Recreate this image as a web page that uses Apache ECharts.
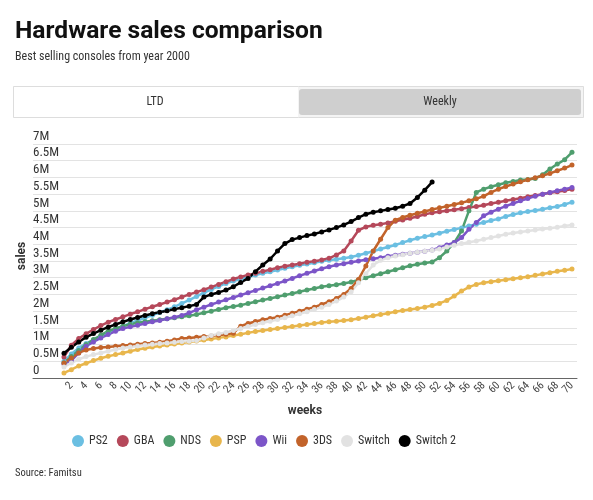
<!DOCTYPE html>
<html>
<head>
<meta charset="utf-8">
<script src="https://cdn.jsdelivr.net/npm/echarts@6/dist/echarts.min.js"></script>
<style>
  html, body { margin: 0; padding: 0; background: #fff; }
  #chart { width: 593px; height: 500px; }
</style>
</head>
<body>
<div id="chart"></div>
<script>
const weeks = [1,2,3,4,5,6,7,8,9,10,11,12,13,14,15,16,17,18,19,20,21,22,23,24,25,26,27,28,29,30,31,32,33,34,35,36,37,38,39,40,41,42,43,44,45,46,47,48,49,50,51,52,53,54,55,56,57,58,59,60,61,62,63,64,65,66,67,68,69,70];
const weekTicks = [2,4,6,8,10,12,14,16,18,20,22,24,26,28,30,32,34,36,38,40,42,44,46,48,50,52,54,56,58,60,62,64,66,68,70];

// sales in millions, LTD
const ps2 = [0.5,0.72,0.9,1.03,1.14,1.25,1.36,1.46,1.55,1.64,1.72,1.8,1.88,1.96,2.04,2.13,2.23,2.33,2.44,2.55,2.65,2.74,2.83,2.9,2.96,3.02,3.08,3.13,3.18,3.23,3.28,3.33,3.37,3.41,3.45,3.49,3.52,3.55,3.58,3.62,3.67,3.73,3.79,3.86,3.92,3.98,4.05,4.12,4.18,4.23,4.28,4.33,4.39,4.44,4.49,4.55,4.6,4.65,4.71,4.76,4.83,4.89,4.94,4.98,5.01,5.05,5.09,5.13,5.19,5.26];
const gba = [0.63,0.98,1.18,1.32,1.45,1.57,1.67,1.75,1.83,1.91,1.98,2.06,2.13,2.2,2.27,2.34,2.42,2.5,2.57,2.64,2.72,2.8,2.88,2.96,3.02,3.08,3.13,3.19,3.24,3.3,3.34,3.38,3.42,3.46,3.49,3.53,3.58,3.68,3.8,4.1,4.42,4.52,4.57,4.6,4.64,4.69,4.73,4.78,4.83,4.9,4.94,4.97,5.0,5.03,5.06,5.1,5.13,5.17,5.22,5.26,5.3,5.34,5.38,5.42,5.46,5.5,5.54,5.57,5.61,5.65];
const nds = [0.45,0.64,0.82,1.0,1.15,1.28,1.4,1.48,1.55,1.61,1.65,1.68,1.71,1.74,1.77,1.8,1.83,1.86,1.9,1.95,2.0,2.05,2.1,2.14,2.18,2.23,2.28,2.33,2.38,2.43,2.48,2.53,2.58,2.63,2.68,2.73,2.76,2.79,2.83,2.87,2.93,3.0,3.06,3.12,3.18,3.24,3.3,3.36,3.4,3.44,3.47,3.6,3.8,4.05,4.4,5.0,5.55,5.65,5.72,5.78,5.84,5.88,5.92,5.94,5.97,6.08,6.25,6.4,6.53,6.75];
const psp = [0.15,0.25,0.36,0.44,0.52,0.59,0.65,0.7,0.75,0.8,0.85,0.89,0.93,0.96,0.99,1.02,1.05,1.08,1.11,1.14,1.17,1.2,1.23,1.27,1.31,1.35,1.39,1.42,1.45,1.48,1.51,1.54,1.57,1.6,1.63,1.66,1.68,1.7,1.72,1.74,1.78,1.82,1.86,1.9,1.94,1.98,2.02,2.05,2.08,2.12,2.17,2.23,2.32,2.45,2.6,2.72,2.8,2.85,2.88,2.91,2.94,2.97,3.0,3.03,3.07,3.11,3.15,3.19,3.22,3.26];
const wii = [0.42,0.52,0.75,0.95,1.08,1.2,1.3,1.4,1.48,1.53,1.58,1.63,1.68,1.72,1.77,1.82,1.87,1.95,2.04,2.12,2.2,2.27,2.34,2.41,2.48,2.55,2.62,2.69,2.76,2.83,2.9,2.98,3.06,3.13,3.2,3.27,3.33,3.38,3.42,3.46,3.5,3.54,3.57,3.6,3.64,3.67,3.7,3.73,3.76,3.79,3.83,3.9,3.98,4.05,4.2,4.45,4.65,4.85,4.96,5.05,5.14,5.22,5.3,5.37,5.44,5.5,5.55,5.6,5.65,5.7];
const ds3 = [0.45,0.6,0.75,0.84,0.88,0.91,0.93,0.95,0.97,0.99,1.01,1.03,1.05,1.07,1.1,1.14,1.18,1.2,1.22,1.24,1.26,1.28,1.31,1.34,1.55,1.63,1.69,1.74,1.78,1.82,1.88,1.94,2.0,2.06,2.12,2.2,2.28,2.38,2.5,2.68,2.95,3.35,3.8,4.15,4.5,4.72,4.8,4.87,4.93,4.98,5.04,5.09,5.14,5.19,5.24,5.3,5.36,5.44,5.55,5.65,5.73,5.8,5.87,5.93,5.99,6.05,6.12,6.2,6.28,6.37];
const sw1 = [0.33,0.45,0.56,0.64,0.7,0.75,0.8,0.85,0.9,0.93,0.96,0.99,1.01,1.03,1.05,1.07,1.09,1.1,1.12,1.2,1.27,1.32,1.36,1.42,1.48,1.54,1.6,1.65,1.7,1.75,1.8,1.86,1.92,1.98,2.05,2.12,2.2,2.3,2.42,2.58,2.85,3.12,3.38,3.52,3.6,3.65,3.69,3.73,3.76,3.79,3.82,3.86,3.92,3.97,4.02,4.06,4.1,4.15,4.2,4.25,4.3,4.34,4.37,4.4,4.43,4.46,4.48,4.51,4.55,4.58];
const sw2 = [0.74,0.92,1.08,1.22,1.33,1.43,1.52,1.6,1.68,1.75,1.81,1.87,1.92,1.97,2.01,2.06,2.1,2.15,2.2,2.42,2.5,2.56,2.63,2.73,2.86,2.98,3.18,3.38,3.56,3.8,4.02,4.14,4.2,4.26,4.31,4.37,4.43,4.5,4.58,4.68,4.8,4.9,4.96,5.0,5.04,5.08,5.14,5.22,5.4,5.62,5.86];

const seriesNames = ['PS2', 'GBA', 'NDS', 'PSP', 'Wii', '3DS', 'Switch', 'Switch 2'];
const seriesValues = [ps2, gba, nds, psp, wii, ds3, sw1, sw2];
const colors = ['#6bbfe2', '#b5485a', '#4f9e6e', '#e8b64c', '#7c55c8', '#c2632a', '#e2e2e2', '#000000'];

const bodyFont = "'Roboto Condensed', Roboto, sans-serif";

let myChart = echarts.init(document.getElementById('chart'));
let option = {
  animation: false,
  color: colors,
  title: [
    {
      text: 'Hardware sales comparison',
      left: 15,
      top: 19,
      padding: 0,
      textStyle: { fontFamily: 'Roboto', fontWeight: 'bold', fontSize: 24.6, color: '#111' }
    },
    {
      text: 'Best selling consoles from year 2000',
      left: 15,
      top: 51,
      padding: 0,
      textStyle: { fontFamily: bodyFont, fontWeight: 'normal', fontSize: 12, color: '#333' }
    },
    {
      text: 'Source: Famitsu',
      left: 15,
      top: 468,
      padding: 0,
      textStyle: { fontFamily: bodyFont, fontWeight: 'normal', fontSize: 10.5, color: '#333' }
    }
  ],
  graphic: [
    // LTD / Weekly tabs
    {
      type: 'rect',
      shape: { x: 13.5, y: 86.5, width: 570, height: 31 },
      style: { fill: '#f4f4f4', stroke: '#dddddd', lineWidth: 1 }
    },
    {
      type: 'rect',
      shape: { x: 14, y: 87, width: 284, height: 30 },
      style: { fill: '#ffffff' }
    },
    {
      type: 'rect',
      shape: { x: 299, y: 89, width: 282, height: 26, r: 3 },
      style: { fill: '#cfcfcf' }
    },
    {
      type: 'text',
      x: 155, y: 102,
      style: { text: 'LTD', fill: '#333', font: "12px 'Roboto Condensed', Roboto, sans-serif", align: 'center', verticalAlign: 'middle' }
    },
    {
      type: 'text',
      x: 440, y: 102,
      style: { text: 'Weekly', fill: '#333', font: "12px 'Roboto Condensed', Roboto, sans-serif", align: 'center', verticalAlign: 'middle' }
    },
    // y axis title
    {
      type: 'text',
      x: 22, y: 256,
      rotation: Math.PI / 2,
      style: { text: 'sales', fill: '#333', font: "bold 12px Roboto, sans-serif", align: 'center', verticalAlign: 'middle' }
    }
  ],
  legend: {
    data: seriesNames,
    left: 72,
    top: 435,
    padding: 0,
    icon: 'circle',
    itemWidth: 12,
    itemHeight: 12,
    itemGap: 9,
    textStyle: { fontFamily: bodyFont, fontSize: 12, color: '#333' }
  },
  grid: {
    left: 33,
    right: 16,
    top: 144,
    bottom: 122
  },
  xAxis: {
    type: 'value',
    min: -3.21,
    max: 70.68,
    name: 'weeks',
    nameLocation: 'middle',
    nameGap: 27,
    nameTextStyle: { fontFamily: 'Roboto', fontWeight: 'bold', fontSize: 12, color: '#333' },
    axisLine: { lineStyle: { color: '#666', width: 1 } },
    axisTick: { show: false },
    splitLine: { show: false },
    axisLabel: {
      // a blank label past the last week keeps "68" and "70" both visible
      customValues: weekTicks.concat([70.6]),
      rotate: 45,
      hideOverlap: false,
      fontFamily: bodyFont,
      fontSize: 11,
      color: '#444',
      margin: 6,
      formatter: function (v) { return Number.isInteger(v) ? String(v) : ''; }
    }
  },
  yAxis: {
    type: 'value',
    min: 0,
    max: 7,
    interval: 0.5,
    axisLine: { show: false },
    axisTick: { show: false },
    axisLabel: {
      inside: true,
      margin: 0,
      verticalAlign: 'bottom',
      padding: [0, 0, 1, 0],
      fontFamily: bodyFont,
      fontSize: 13,
      color: '#333',
      formatter: function (v) { return v === 0 ? '0' : v + 'M'; }
    },
    splitLine: { lineStyle: { color: '#e3e3e3', width: 1 } }
  },
  series: seriesNames.map(function (name, i) {
    return {
      name: name,
      type: 'line',
      symbol: 'circle',
      symbolSize: 5,
      lineStyle: { width: 2.5 },
      data: seriesValues[i].map(function (v, j) { return [weeks[j], v]; })
    };
  })
};
myChart.setOption(option);
window.addEventListener('resize', function () {
  myChart.resize();
});
</script>
</body>
</html>
